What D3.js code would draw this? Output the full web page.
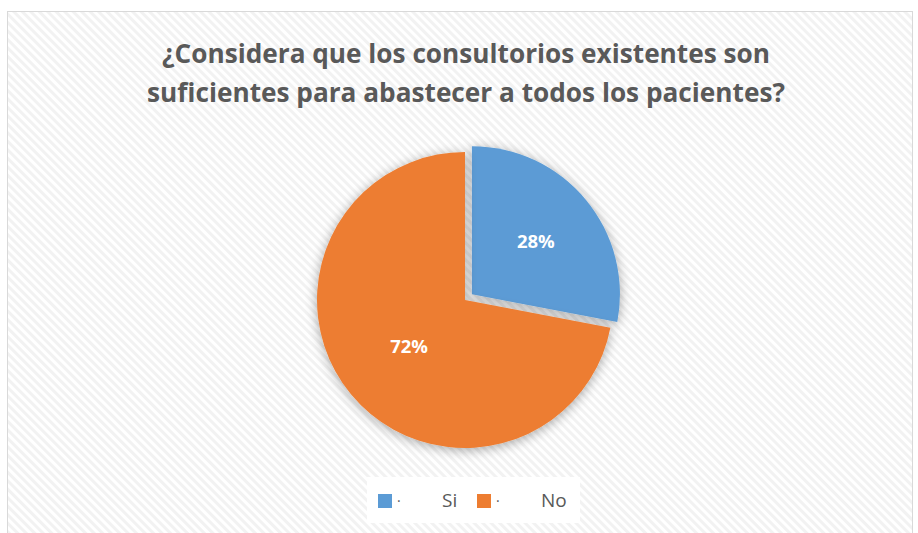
<!DOCTYPE html>
<html>
<head>
<meta charset="utf-8">
<script src="https://cdn.jsdelivr.net/npm/d3@7"></script>
<style>
  body { margin: 0; background: #fff; }
  svg { display: block; }
</style>
</head>
<body>
<div id="viz"></div>
<script>
const categories = ["Si", "No"]
const values = [28, 72]
const colors = ["#5B9BD5", "#ED7D31"]
const titleLines = [
  "¿Considera que los consultorios existentes son",
  "suficientes para abastecer a todos los pacientes?"
]

const width = 918, height = 533
const font = "'Open Sans', 'Noto Sans', sans-serif"
const svg = d3.select("#viz").append("svg").attr("width", width).attr("height", height)

const defs = svg.append("defs")

// diagonal stripes for the chart area
const pat = defs.append("pattern")
  .attr("id", "stripes")
  .attr("patternUnits", "userSpaceOnUse")
  .attr("width", 6).attr("height", 6)
  .attr("patternTransform", "rotate(-45)")
pat.append("rect").attr("width", 6).attr("height", 6).attr("fill", "#ffffff")
pat.append("rect").attr("width", 3).attr("height", 6).attr("fill", "#f2f2f2")

// soft shadow under the pie
const filter = defs.append("filter").attr("id", "shadow")
  .attr("x", "-20%").attr("y", "-20%").attr("width", "140%").attr("height", "140%")
filter.append("feGaussianBlur").attr("in", "SourceAlpha").attr("stdDeviation", 6).attr("result", "blur")
filter.append("feOffset").attr("in", "blur").attr("dx", 0).attr("dy", 2).attr("result", "off")
filter.append("feComponentTransfer").attr("in", "off").attr("result", "soft")
  .append("feFuncA").attr("type", "linear").attr("slope", 0.35)
const merge = filter.append("feMerge")
merge.append("feMergeNode").attr("in", "soft")
merge.append("feMergeNode").attr("in", "SourceGraphic")

svg.append("rect")
  .attr("x", 7.5).attr("y", 11.5)
  .attr("width", 905).attr("height", 530)
  .attr("fill", "url(#stripes)")
  .attr("stroke", "#d9d9d9")

// title
const title = svg.append("g").selectAll("text")
  .data(titleLines)
  .enter()
  .append("text")
  .attr("x", 466)
  .attr("y", (d, i) => 63 + i * 39)
  .attr("text-anchor", "middle")
  .attr("font-family", font)
  .attr("font-weight", "bold")
  .attr("font-size", 24)
  .attr("fill", "#595959")
  .text(d => d)

// fit the longer line to the width seen in the picture
const w2 = title.nodes()[1].getComputedTextLength()
title.attr("font-size", 24 * 638 / w2)

// pie
const cx = 465, cy = 300, r = 148, explode = 9
const labelRatio = [0.56, 0.49]
const pie = d3.pie().sort(null).value(d => d)
const arcs = pie(values)
const arc = d3.arc().innerRadius(0).outerRadius(r)

const g = svg.append("g").attr("transform", `translate(${cx}, ${cy})`)

const slices = g.selectAll(".slice")
  .data(arcs)
  .enter()
  .append("g")
  .attr("class", "slice")
  .attr("transform", (d, i) => {
    if (i != 0) return null
    const mid = (d.startAngle + d.endAngle) / 2
    return `translate(${explode * Math.sin(mid)}, ${-explode * Math.cos(mid)})`
  })

slices.append("path")
  .attr("d", arc)
  .attr("fill", (d, i) => colors[i])
  .style("filter", "url(#shadow)")

slices.append("text")
  .attr("transform", (d, i) => {
    const la = d3.arc().innerRadius(r * labelRatio[i]).outerRadius(r * labelRatio[i])
    return `translate(${la.centroid(d)})`
  })
  .attr("dy", "0.35em")
  .attr("text-anchor", "middle")
  .attr("font-family", font)
  .attr("font-weight", "bold")
  .attr("font-size", 18.5)
  .attr("fill", "#ffffff")
  .text(d => d.data + "%")

// legend
const legend = svg.append("g")
legend.append("rect")
  .attr("x", 367).attr("y", 477)
  .attr("width", 213).attr("height", 46)
  .attr("fill", "#ffffff")

const items = legend.selectAll(".item")
  .data(categories)
  .enter()
  .append("g")
  .attr("class", "item")
  .attr("transform", (d, i) => `translate(${378 + i * 99}, 494)`)

items.append("rect")
  .attr("width", 14).attr("height", 14)
  .attr("fill", (d, i) => colors[i])

items.append("text")
  .attr("x", 19).attr("y", 12)
  .attr("font-family", font)
  .attr("font-size", 14)
  .attr("fill", "#595959")
  .text("·")

items.append("text")
  .attr("x", 64).attr("y", 13)
  .attr("font-family", font)
  .attr("font-size", 19)
  .attr("fill", "#595959")
  .text(d => d)
</script>
</body>
</html>
